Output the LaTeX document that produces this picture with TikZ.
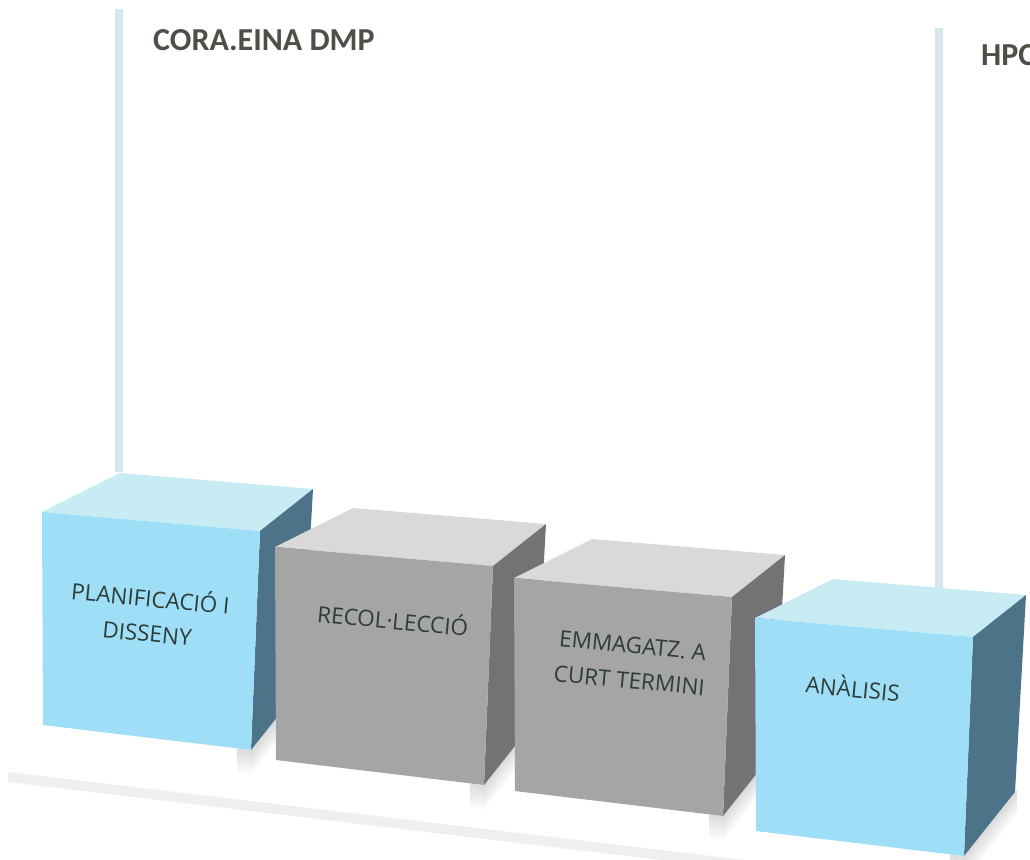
\documentclass[tikz,border=0pt]{standalone}
\usepackage{fontspec}
\setmainfont{Open Sans}
\newfontfamily\titlefont{Carlito}
\usetikzlibrary{calc}
\definecolor{bfront}{HTML}{9EDFF7}
\definecolor{btop}{HTML}{C8ECF4}
\definecolor{bside}{HTML}{4D7389}
\definecolor{gfront}{HTML}{A5A5A5}
\definecolor{gtop}{HTML}{D9D9D9}
\definecolor{gside}{HTML}{737373}
\definecolor{txt}{HTML}{2E3D38}
\definecolor{ttl}{HTML}{4B5147}
\definecolor{pole}{HTML}{D5EAEE}
\definecolor{floorc}{HTML}{EFEFEF}
\newcommand{\cubeat}[5]{%
  \begin{scope}[shift={(#1,#2)}]
    \foreach \i in {0,...,11}{
      \fill[black,opacity={0.13-0.01*\i}]
        (195,{236+2*\i}) -- (209,{238+2*\i}) -- (262,{172+2*\i})
        -- (262,{174+2*\i}) -- (209,{240+2*\i}) -- (195,{238+2*\i}) -- cycle;
    }
    \fill[#4] (0,0) -- (78,-39) -- (271,-23) -- (218,19) -- cycle;
    \fill[#5] (218,19) -- (271,-23) -- (260,174) -- (209,238) -- cycle;
    \fill[#3] (0,0) -- (218,19) -- (209,238) -- (1,213) -- cycle;
  \end{scope}}
\tikzset{
  boxtext/.style={text=txt, font=\fontsize{22.5}{35}\selectfont, align=center, rotate=-5.5, inner sep=0pt},
  title/.style={text=ttl, font=\titlefont\bfseries\fontsize{32}{38}\selectfont, anchor=base west, inner sep=0pt},
  polestyle/.style={line width=6pt, pole},
  poleshadow/.style={line width=2pt, black, opacity=0.12}
}
\begin{document}
\begin{tikzpicture}[x=1pt,y=-1pt]
\useasboundingbox (0,0) rectangle (1030,859);
\clip (0,0) rectangle (1030,859);
% floor band
\fill[floorc] (8,772) -- (820,869) -- (820,879) -- (8,782) -- cycle;
% poles
\coordinate (p1top) at (119.5,9);
\coordinate (p1bot) at (119.5,472);
\coordinate (p2top) at (939.5,28);
\coordinate (p2bot) at (939.5,590);
\draw[poleshadow] ([xshift=-3.5pt]p1top) -- ([xshift=-3.5pt]p1bot);
\draw[polestyle] (p1top) -- (p1bot);
\draw[poleshadow] ([xshift=-3.5pt]p2top) -- ([xshift=-3.5pt]p2bot);
\draw[polestyle] (p2top) -- (p2bot);
% titles
\node[title] (t1) at (153,51) {CORA.EINA DMP};
\node[title] (t2) at (981,66) {HPC};
% cubes
\cubeat{42}{512}{bfront}{btop}{bside}
\cubeat{275}{547}{gfront}{gtop}{gside}
\cubeat{514}{578}{gfront}{gtop}{gside}
\cubeat{755}{618}{bfront}{btop}{bside}
% labels
\node[boxtext] (l1) at (149,614) {PLANIFICACIÓ I\\DISSENY};
\node[boxtext] (l2) at (393,619) {RECOL·LECCIÓ};
\node[boxtext] (l3) at (631,663) {EMMAGATZ. A\\CURT TERMINI};
\node[boxtext] (l4) at (853,687) {ANÀLISIS};
\end{tikzpicture}
\end{document}
